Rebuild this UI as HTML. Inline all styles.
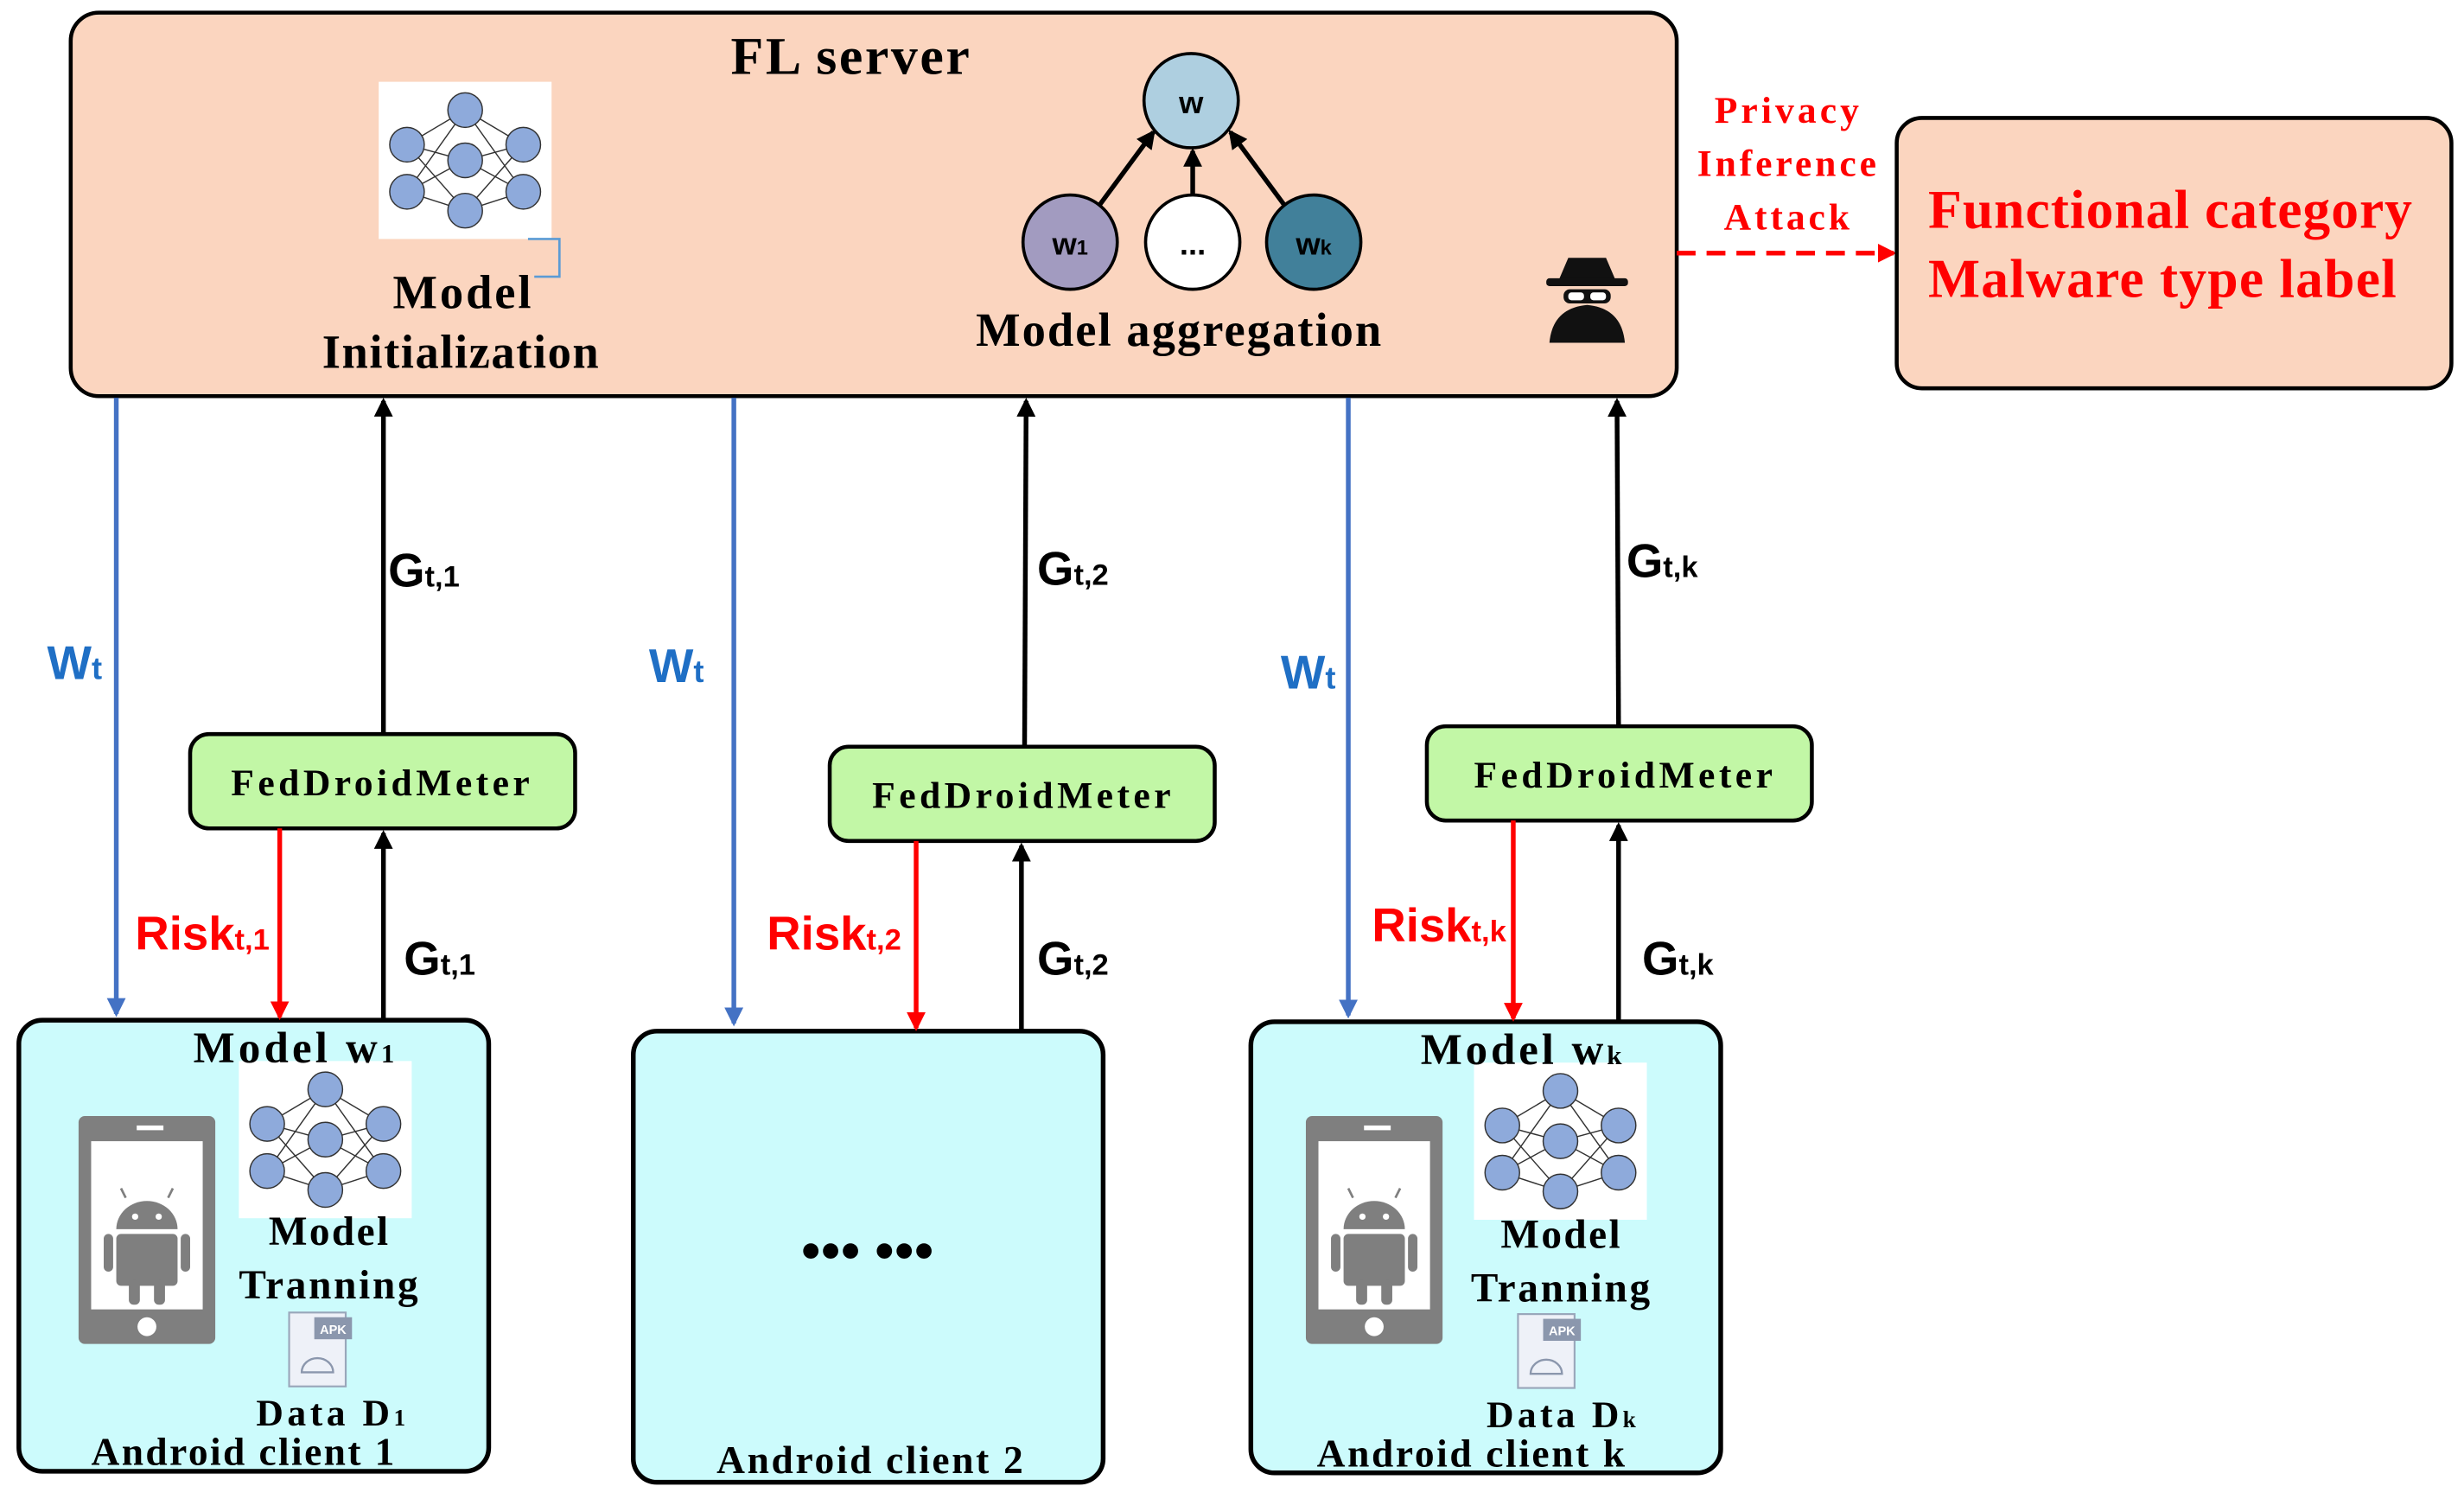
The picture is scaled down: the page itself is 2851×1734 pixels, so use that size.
<!DOCTYPE html>
<html><head><meta charset="utf-8"><style>
html,body{margin:0;padding:0;background:#fff}
svg{display:block}
.s{font-family:"Liberation Serif",serif;font-weight:bold}
.a{font-family:"Liberation Sans",sans-serif;font-weight:bold}
</style></head><body>
<svg width="2851" height="1734" viewBox="0 0 1568 953.6" xmlns="http://www.w3.org/2000/svg">
<defs>
<marker id="mk" markerWidth="12" markerHeight="12" refX="10" refY="6" orient="auto" markerUnits="userSpaceOnUse"><path d="M0,0 L12,6 L0,12 z" fill="#000"/></marker>
<marker id="mb" markerWidth="12" markerHeight="12" refX="10" refY="6" orient="auto" markerUnits="userSpaceOnUse"><path d="M0,0 L12,6 L0,12 z" fill="#4472c4"/></marker>
<marker id="mr" markerWidth="12" markerHeight="12" refX="10" refY="6" orient="auto" markerUnits="userSpaceOnUse"><path d="M0,0 L12,6 L0,12 z" fill="#f00"/></marker>
<g id="nn">
<g stroke="#333" stroke-width="0.8">
<line x1="18" y1="40" x2="55" y2="18"/><line x1="18" y1="40" x2="55" y2="50"/><line x1="18" y1="40" x2="55" y2="82"/>
<line x1="18" y1="70" x2="55" y2="18"/><line x1="18" y1="70" x2="55" y2="50"/><line x1="18" y1="70" x2="55" y2="82"/>
<line x1="92" y1="40" x2="55" y2="18"/><line x1="92" y1="40" x2="55" y2="50"/><line x1="92" y1="40" x2="55" y2="82"/>
<line x1="92" y1="70" x2="55" y2="18"/><line x1="92" y1="70" x2="55" y2="50"/><line x1="92" y1="70" x2="55" y2="82"/>
</g>
<g fill="#8eaadb" stroke="#333" stroke-width="0.8">
<circle cx="18" cy="40" r="11"/><circle cx="18" cy="70" r="11"/><circle cx="55" cy="18" r="11"/><circle cx="55" cy="50" r="11"/><circle cx="55" cy="82" r="11"/><circle cx="92" cy="40" r="11"/><circle cx="92" cy="70" r="11"/>
</g>
</g>
<g id="phone">
<rect x="0" y="0" width="87" height="145" rx="4" fill="#7f7f7f"/>
<rect x="8" y="16" width="71" height="107" fill="#fff"/>
<rect x="37" y="6" width="17" height="3" fill="#fff"/>
<circle cx="43.5" cy="134" r="6" fill="#fff"/>
<path d="M24,72 a19.5,18 0 0 1 39,0 z" fill="#7f7f7f"/>
<line x1="30" y1="52" x2="27" y2="46" stroke="#7f7f7f" stroke-width="1.5"/><line x1="57" y1="52" x2="60" y2="46" stroke="#7f7f7f" stroke-width="1.5"/>
<circle cx="36" cy="64" r="2" fill="#fff"/><circle cx="51" cy="64" r="2" fill="#fff"/>
<rect x="24" y="75" width="39" height="33" rx="3" fill="#7f7f7f"/>
<rect x="16" y="75" width="6" height="24" rx="3" fill="#7f7f7f"/><rect x="65" y="75" width="6" height="24" rx="3" fill="#7f7f7f"/>
<rect x="32" y="104" width="7" height="16" rx="3" fill="#7f7f7f"/><rect x="48" y="104" width="7" height="16" rx="3" fill="#7f7f7f"/>
</g>
<g id="apk">
<rect x="0" y="0" width="36" height="47" fill="#eef1f8" stroke="#9aa7bb" stroke-width="1.2"/>
<rect x="16" y="3" width="24" height="14" fill="#8b97ad"/>
<text x="28" y="13.5" font-size="8" fill="#fff" text-anchor="middle" font-family="Liberation Sans" font-weight="bold">APK</text>
<path d="M8,38 a10,9 0 0 1 20,0 z" fill="none" stroke="#8b97ad" stroke-width="1.3"/>
</g>
</defs>

<!-- FL server -->
<rect x="45" y="8" width="1022" height="244" rx="18" fill="#fbd5bf" stroke="#000" stroke-width="2.5"/>
<text x="465" y="47" class="s" font-size="34" textLength="152" lengthAdjust="spacing">FL server</text>
<rect x="241" y="52" width="110" height="100" fill="#fff"/>
<use href="#nn" x="241" y="52"/>
<path d="M336,152 h20 v24 h-16" fill="none" stroke="#5b9bd5" stroke-width="1.5"/>
<text x="250" y="196" class="s" font-size="30" textLength="88" lengthAdjust="spacing">Model</text>
<text x="205" y="234" class="s" font-size="30" textLength="176" lengthAdjust="spacing">Initialization</text>
<g stroke="#000" stroke-width="3">
<line x1="700" y1="130" x2="734" y2="84" marker-end="url(#mk)"/>
<line x1="759" y1="124" x2="759" y2="96" marker-end="url(#mk)"/>
<line x1="817" y1="130" x2="783" y2="84" marker-end="url(#mk)"/>
</g>
<circle cx="758" cy="64" r="30" fill="#aecfe0" stroke="#000" stroke-width="2"/>
<text x="758" y="72" class="a" font-size="20" text-anchor="middle">w</text>
<circle cx="681" cy="154" r="30" fill="#a29bc0" stroke="#000" stroke-width="2"/>
<text x="681" y="162" class="a" font-size="20" text-anchor="middle">w<tspan font-size="13">1</tspan></text>
<circle cx="759" cy="154" r="30" fill="#fff" stroke="#000" stroke-width="2"/>
<text x="759" y="162" class="a" font-size="20" text-anchor="middle">...</text>
<circle cx="836" cy="154" r="30" fill="#41809a" stroke="#000" stroke-width="2"/>
<text x="836" y="162" class="a" font-size="20" text-anchor="middle">w<tspan font-size="13">k</tspan></text>
<text x="621" y="220" class="s" font-size="30" textLength="258" lengthAdjust="spacing">Model aggregation</text>
<!-- spy -->
<g fill="#111">
<path d="M992,178 l6,-14 h24 l6,14 z"/>
<rect x="984" y="177" width="52" height="5" rx="2"/>
<rect x="995" y="184" width="30" height="9" rx="4"/>
<path d="M986,218 q2,-22 24,-24 q22,2 24,24 z"/>
</g>
<rect x="998" y="186" width="10" height="5" rx="2" fill="#fff"/><rect x="1012" y="186" width="10" height="5" rx="2" fill="#fff"/>

<!-- privacy attack -->
<line x1="1067" y1="161" x2="1205" y2="161" stroke="#f00" stroke-width="3" stroke-dasharray="12,7" marker-end="url(#mr)"/>
<text x="1091" y="78" class="s" font-size="24" fill="#f00" textLength="92" lengthAdjust="spacing">Privacy</text>
<text x="1080" y="112" class="s" font-size="24" fill="#f00" textLength="114" lengthAdjust="spacing">Inference</text>
<text x="1097" y="146" class="s" font-size="24" fill="#f00" textLength="80" lengthAdjust="spacing">Attack</text>
<rect x="1207" y="75" width="353" height="172" rx="16" fill="#fbd5bf" stroke="#000" stroke-width="2.5"/>
<text x="1227" y="145" class="s" font-size="35" fill="#f00" textLength="308" lengthAdjust="spacing">Functional category</text>
<text x="1227" y="189" class="s" font-size="35" fill="#f00" textLength="298" lengthAdjust="spacing">Malware type label</text>

<!-- clients -->
<rect x="12" y="649" width="299" height="287" rx="15" fill="#ccfbfc" stroke="#000" stroke-width="3"/>
<rect x="403" y="656" width="299" height="287" rx="15" fill="#ccfbfc" stroke="#000" stroke-width="3"/>
<rect x="796" y="650" width="299" height="287" rx="15" fill="#ccfbfc" stroke="#000" stroke-width="3"/>

<!-- FedDroidMeter -->
<rect x="121" y="467" width="245" height="60" rx="12" fill="#c2f7a6" stroke="#000" stroke-width="2.5"/>
<text x="147" y="506" class="s" font-size="24" textLength="190" lengthAdjust="spacing">FedDroidMeter</text>
<rect x="528" y="475" width="245" height="60" rx="12" fill="#c2f7a6" stroke="#000" stroke-width="2.5"/>
<text x="555" y="514" class="s" font-size="24" textLength="190" lengthAdjust="spacing">FedDroidMeter</text>
<rect x="908" y="462" width="245" height="60" rx="12" fill="#c2f7a6" stroke="#000" stroke-width="2.5"/>
<text x="938" y="501" class="s" font-size="24" textLength="190" lengthAdjust="spacing">FedDroidMeter</text>

<!-- arrows -->
<g stroke-width="3">
<line x1="74" y1="253" x2="74" y2="645" stroke="#4472c4" marker-end="url(#mb)"/>
<line x1="467" y1="253" x2="467" y2="651" stroke="#4472c4" marker-end="url(#mb)"/>
<line x1="858" y1="253" x2="858" y2="646" stroke="#4472c4" marker-end="url(#mb)"/>
<line x1="244" y1="467" x2="244" y2="255" stroke="#000" marker-end="url(#mk)"/>
<line x1="244" y1="649" x2="244" y2="530" stroke="#000" marker-end="url(#mk)"/>
<line x1="652" y1="475" x2="653" y2="255" stroke="#000" marker-end="url(#mk)"/>
<line x1="650" y1="656" x2="650" y2="538" stroke="#000" marker-end="url(#mk)"/>
<line x1="1030" y1="462" x2="1029" y2="255" stroke="#000" marker-end="url(#mk)"/>
<line x1="1030" y1="650" x2="1030" y2="525" stroke="#000" marker-end="url(#mk)"/>
<line x1="178" y1="527" x2="178" y2="647" stroke="#f00" marker-end="url(#mr)"/>
<line x1="583" y1="535" x2="583" y2="654" stroke="#f00" marker-end="url(#mr)"/>
<line x1="963" y1="522" x2="963" y2="648" stroke="#f00" marker-end="url(#mr)"/>
</g>
<g class="a" font-size="30" fill="#1f6fc5">
<text x="30" y="432">W<tspan font-size="20">t</tspan></text>
<text x="413" y="434">W<tspan font-size="20">t</tspan></text>
<text x="815" y="438">W<tspan font-size="20">t</tspan></text>
</g>
<g class="a" font-size="30">
<text x="247" y="373">G<tspan font-size="19">t,1</tspan></text>
<text x="257" y="620">G<tspan font-size="19">t,1</tspan></text>
<text x="660" y="372">G<tspan font-size="19">t,2</tspan></text>
<text x="660" y="620">G<tspan font-size="19">t,2</tspan></text>
<text x="1035" y="367">G<tspan font-size="19">t,k</tspan></text>
<text x="1045" y="620">G<tspan font-size="19">t,k</tspan></text>
</g>
<g class="a" font-size="30" fill="#f00">
<text x="86" y="604">Risk<tspan font-size="19">t,1</tspan></text>
<text x="488" y="604">Risk<tspan font-size="19">t,2</tspan></text>
<text x="873" y="599">Risk<tspan font-size="19">t,k</tspan></text>
</g>

<!-- client 1 contents -->
<rect x="152" y="675" width="110" height="100" fill="#fff"/>
<use href="#nn" x="152" y="675"/>
<text x="123" y="676" class="s" font-size="28" textLength="128" lengthAdjust="spacing">Model w<tspan font-size="17">1</tspan></text>
<use href="#phone" x="50" y="710"/>
<text x="171" y="792" class="s" font-size="26" textLength="76" lengthAdjust="spacing">Model</text>
<text x="152" y="826" class="s" font-size="26" textLength="114" lengthAdjust="spacing">Tranning</text>
<use href="#apk" x="184" y="835"/>
<text x="163" y="907" class="s" font-size="24" textLength="95" lengthAdjust="spacing">Data D<tspan font-size="15">1</tspan></text>
<text x="58" y="932" class="s" font-size="25" textLength="193" lengthAdjust="spacing">Android client 1</text>

<!-- client 2 -->
<text x="552" y="808" class="s" font-size="36" text-anchor="middle">••• •••</text>
<text x="456" y="937" class="s" font-size="25" textLength="195" lengthAdjust="spacing">Android client 2</text>

<!-- client k -->
<rect x="938" y="676" width="110" height="100" fill="#fff"/>
<use href="#nn" x="938" y="676"/>
<text x="904" y="677" class="s" font-size="28" textLength="128" lengthAdjust="spacing">Model w<tspan font-size="17">k</tspan></text>
<use href="#phone" x="831" y="710"/>
<text x="955" y="794" class="s" font-size="26" textLength="76" lengthAdjust="spacing">Model</text>
<text x="936" y="828" class="s" font-size="26" textLength="114" lengthAdjust="spacing">Tranning</text>
<use href="#apk" x="966" y="836"/>
<text x="946" y="908" class="s" font-size="24" textLength="95" lengthAdjust="spacing">Data D<tspan font-size="15">k</tspan></text>
<text x="838" y="933" class="s" font-size="25" textLength="196" lengthAdjust="spacing">Android client k</text>
</svg>
</body></html>
